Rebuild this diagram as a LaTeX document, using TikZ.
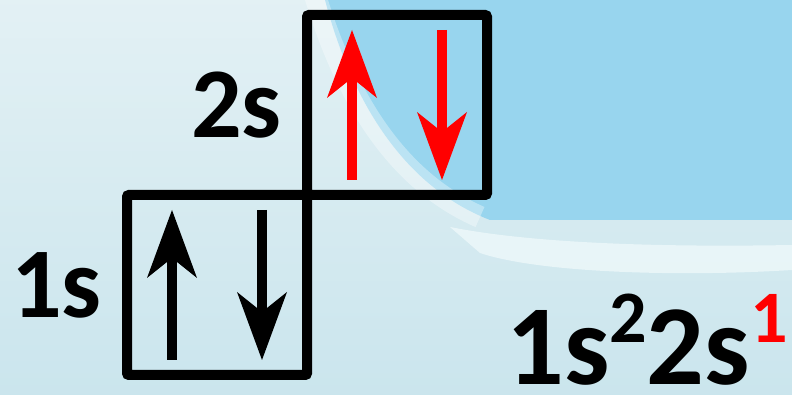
\documentclass[tikz,border=0pt]{standalone}
\usepackage{fontspec}
\setmainfont{Carlito}
\usepackage{xcolor}
\usetikzlibrary{positioning,arrows.meta}

\definecolor{paleblue}{HTML}{D0E7ED}
\definecolor{skyblue}{HTML}{98D5EE}
\definecolor{rimwhite}{HTML}{EEF8FA}
\definecolor{spinred}{HTML}{FF0000}

\tikzset{
  orbital/.style={draw,line width=10pt,rounded corners=2pt,minimum size=180pt,inner sep=0pt},
  spin/.style={line width=10pt,-{Stealth[length=68pt,width=50pt,inset=20pt,line width=0pt]}},
  orblabel/.style={inner sep=0pt,font=\bfseries\fontsize{100}{100}\selectfont}
}
\newcommand{\elexp}[1]{\raisebox{42pt}{\fontsize{74}{74}\selectfont #1}}

\begin{document}
\begin{tikzpicture}[x=1pt,y=1pt]
\useasboundingbox (0,0) rectangle (792,395);
\clip (0,0) rectangle (792,395);
% background
\shade[top color=paleblue!60!white,bottom color=paleblue!90!skyblue] (0,0) rectangle (792,395);
\fill[skyblue] (325,395) .. controls (350,300) and (400,210) .. (490,175) -- (792,175) -- (792,395) -- cycle;
\draw[white,opacity=0.35,line width=22pt] (315,400) .. controls (345,300) and (395,215) .. (480,178);
\fill[rimwhite,opacity=0.8] (450,168) .. controls (540,150) and (680,148) .. (792,150) -- (792,125) .. controls (680,118) and (540,122) .. (480,142) -- cycle;
% boxes
\node[orbital] (s1) at (217,110) {};
\node[orbital] (s2) at (397,290) {};
\node[orblabel,left=20pt of s1] (l1) {1s};
\node[orblabel,left=20pt of s2] (l2) {2s};
% spins
\draw[spin] ([xshift=-45pt,yshift=-75pt]s1.center) -- ([xshift=-45pt,yshift=75pt]s1.center);
\draw[spin] ([xshift=45pt,yshift=75pt]s1.center) -- ([xshift=45pt,yshift=-75pt]s1.center);
\draw[spin,spinred] ([xshift=-45pt,yshift=-75pt]s2.center) -- ([xshift=-45pt,yshift=75pt]s2.center);
\draw[spin,spinred] ([xshift=45pt,yshift=75pt]s2.center) -- ([xshift=45pt,yshift=-75pt]s2.center);
% configuration
\node[anchor=base west,inner sep=0pt,font=\bfseries\fontsize{114}{114}\selectfont] (config) at (506,10)
  {1s\elexp{2}2s\elexp{\color{spinred}1}};
\end{tikzpicture}
\end{document}
